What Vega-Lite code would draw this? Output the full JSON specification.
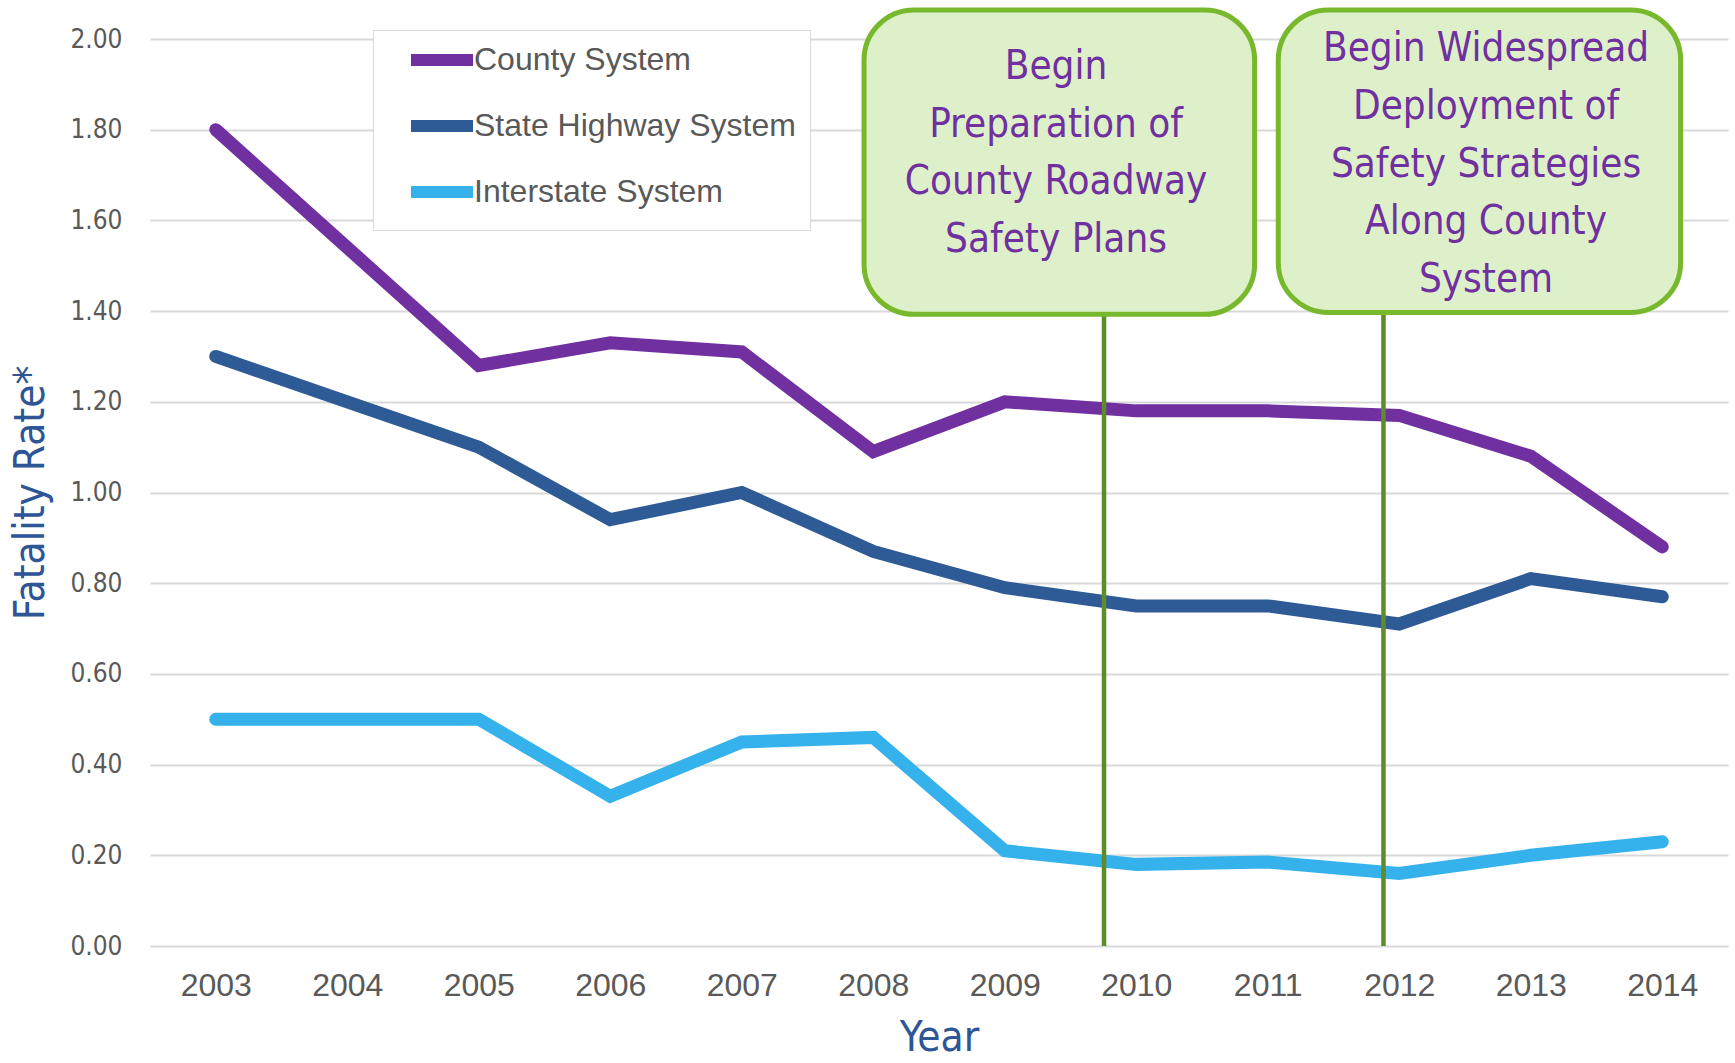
{
  "$schema": "https://vega.github.io/schema/vega-lite/v6.json",
  "width": 1578,
  "height": 907,
  "autosize": {"type": "none"},
  "padding": {"left": 150, "top": 39, "right": 7, "bottom": 117},
  "background": "#ffffff",
  "config": {
    "view": {"stroke": null},
    "axis": {"domain": false, "ticks": false}
  },
  "datasets": {
    "rates": [
      {"year": 2003, "system": "County System", "rate": 1.80},
      {"year": 2004, "system": "County System", "rate": 1.54},
      {"year": 2005, "system": "County System", "rate": 1.28},
      {"year": 2006, "system": "County System", "rate": 1.33},
      {"year": 2007, "system": "County System", "rate": 1.31},
      {"year": 2008, "system": "County System", "rate": 1.09},
      {"year": 2009, "system": "County System", "rate": 1.20},
      {"year": 2010, "system": "County System", "rate": 1.18},
      {"year": 2011, "system": "County System", "rate": 1.18},
      {"year": 2012, "system": "County System", "rate": 1.17},
      {"year": 2013, "system": "County System", "rate": 1.08},
      {"year": 2014, "system": "County System", "rate": 0.88},
      {"year": 2003, "system": "State Highway System", "rate": 1.30},
      {"year": 2004, "system": "State Highway System", "rate": 1.20},
      {"year": 2005, "system": "State Highway System", "rate": 1.10},
      {"year": 2006, "system": "State Highway System", "rate": 0.94},
      {"year": 2007, "system": "State Highway System", "rate": 1.00},
      {"year": 2008, "system": "State Highway System", "rate": 0.87},
      {"year": 2009, "system": "State Highway System", "rate": 0.79},
      {"year": 2010, "system": "State Highway System", "rate": 0.75},
      {"year": 2011, "system": "State Highway System", "rate": 0.75},
      {"year": 2012, "system": "State Highway System", "rate": 0.71},
      {"year": 2013, "system": "State Highway System", "rate": 0.81},
      {"year": 2014, "system": "State Highway System", "rate": 0.77},
      {"year": 2003, "system": "Interstate System", "rate": 0.50},
      {"year": 2004, "system": "Interstate System", "rate": 0.50},
      {"year": 2005, "system": "Interstate System", "rate": 0.50},
      {"year": 2006, "system": "Interstate System", "rate": 0.33},
      {"year": 2007, "system": "Interstate System", "rate": 0.45},
      {"year": 2008, "system": "Interstate System", "rate": 0.46},
      {"year": 2009, "system": "Interstate System", "rate": 0.21},
      {"year": 2010, "system": "Interstate System", "rate": 0.18},
      {"year": 2011, "system": "Interstate System", "rate": 0.185},
      {"year": 2012, "system": "Interstate System", "rate": 0.16},
      {"year": 2013, "system": "Interstate System", "rate": 0.20},
      {"year": 2014, "system": "Interstate System", "rate": 0.23}
    ],
    "milestones": [
      {
        "note": ["Begin", "Preparation of", "County Roadway", "Safety Plans"],
        "year_start": 2007.93, "year_end": 2010.90,
        "rate_top": 2.064, "rate_bottom": 1.393, "rate_base": 0,
        "marker_year": 2009.755,
        "label_year": 2009.39, "label_rate": 1.938
      },
      {
        "note": ["Begin Widespread", "Deployment of", "Safety Strategies", "Along County", "System"],
        "year_start": 2011.08, "year_end": 2014.14,
        "rate_top": 2.064, "rate_bottom": 1.397, "rate_base": 0,
        "marker_year": 2011.88,
        "label_year": 2012.66, "label_rate": 1.977
      }
    ]
  },
  "layer": [
    {
      "data": {"name": "rates"},
      "mark": {"type": "line", "strokeWidth": 13, "strokeCap": "round", "strokeJoin": "miter", "clip": false},
      "encoding": {
        "x": {
          "field": "year", "type": "quantitative",
          "scale": {"domain": [2002.5, 2014.5], "nice": false, "zero": false},
          "axis": {
            "values": [2003, 2004, 2005, 2006, 2007, 2008, 2009, 2010, 2011, 2012, 2013, 2014],
            "format": "d", "grid": false,
            "labelFont": "Liberation Sans", "labelFontSize": 32, "labelColor": "#595959",
            "labelPadding": 24, "labelFlush": false,
            "title": "Year", "titleFont": "Liberation Sans Narrow, 'Arial Narrow', 'DejaVu Sans Condensed', Roboto",
            "titleFontSize": 42, "titleFontWeight": "normal", "titleColor": "#2E5596", "titlePadding": 16
          }
        },
        "y": {
          "field": "rate", "type": "quantitative",
          "scale": {"domain": [0, 2], "nice": false},
          "axis": {
            "values": [0, 0.2, 0.4, 0.6, 0.8, 1.0, 1.2, 1.4, 1.6, 1.8, 2.0],
            "format": ".2f", "grid": true, "gridColor": "#D9D9D9", "gridWidth": 2,
            "labelFont": "Liberation Sans Narrow, 'Arial Narrow', 'DejaVu Sans Condensed', Roboto",
            "labelFontSize": 26, "labelColor": "#595959", "labelPadding": 28,
            "title": "Fatality Rate*", "titleFont": "Liberation Sans Narrow, 'Arial Narrow', 'DejaVu Sans Condensed', Roboto",
            "titleFontSize": 42, "titleFontWeight": "normal", "titleColor": "#2E5596", "titlePadding": 17
          }
        },
        "color": {
          "field": "system", "type": "nominal",
          "scale": {
            "domain": ["County System", "State Highway System", "Interstate System"],
            "range": ["#7030A0", "#2E5A96", "#35B1EC"]
          },
          "legend": {
            "orient": "none", "legendX": 223, "legendY": -9, "title": null,
            "symbolType": "M-3.1,0H3.1", "symbolSize": 400, "symbolStrokeWidth": 12,
            "labelFont": "Liberation Sans", "labelFontSize": 32, "labelColor": "#595959",
            "labelLimit": 500, "labelOffset": 16, "fillColor": "#ffffff", "strokeColor": "#D9D9D9",
            "padding": 14, "rowPadding": 18, "symbolOffset": 39
          }
        }
      }
    },
    {
      "data": {"name": "milestones"},
      "mark": {"type": "rule", "color": "#5E8C2A", "strokeWidth": 4.5},
      "encoding": {
        "x": {"field": "marker_year", "type": "quantitative"},
        "y": {"field": "rate_bottom", "type": "quantitative"},
        "y2": {"field": "rate_base"}
      }
    },
    {
      "data": {"name": "milestones"},
      "mark": {"type": "rect", "fill": "#000000", "opacity": 0.13, "cornerRadius": 50, "yOffset": 6, "xOffset": 2},
      "encoding": {
        "x": {"field": "year_start", "type": "quantitative"},
        "x2": {"field": "year_end"},
        "y": {"field": "rate_top", "type": "quantitative"},
        "y2": {"field": "rate_bottom"}
      }
    },
    {
      "data": {"name": "milestones"},
      "mark": {"type": "rect", "fill": "#DEF0C9", "stroke": "#77B82C", "strokeWidth": 5, "cornerRadius": 50},
      "encoding": {
        "x": {"field": "year_start", "type": "quantitative"},
        "x2": {"field": "year_end"},
        "y": {"field": "rate_top", "type": "quantitative"},
        "y2": {"field": "rate_bottom"}
      }
    },
    {
      "data": {"name": "milestones"},
      "mark": {
        "type": "text", "font": "Liberation Sans Narrow, 'Arial Narrow', 'DejaVu Sans Condensed', Roboto",
        "fontSize": 40, "lineHeight": 57.6,
        "color": "#7030A0", "align": "center", "baseline": "middle"
      },
      "encoding": {
        "x": {"field": "label_year", "type": "quantitative"},
        "y": {"field": "label_rate", "type": "quantitative"},
        "text": {"field": "note"}
      }
    }
  ]
}
